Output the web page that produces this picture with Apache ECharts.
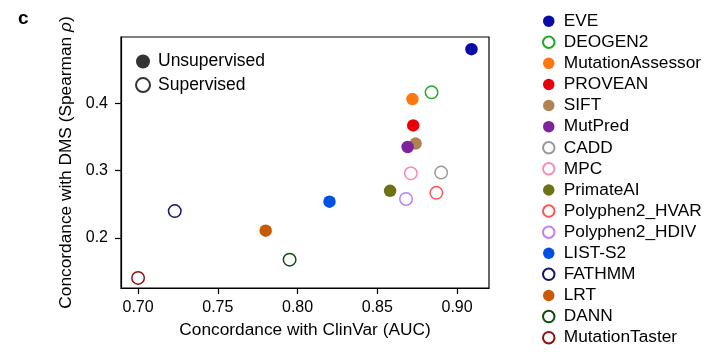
<!DOCTYPE html>
<html><head><meta charset="utf-8">
<script src="https://cdn.jsdelivr.net/npm/echarts@6/dist/echarts.min.js"></script>
<style>html,body{margin:0;padding:0;background:#fff}#c{width:716px;height:360px}</style>
</head><body><div id="c"></div>
<script>
const methods = ['EVE','DEOGEN2','MutationAssessor','PROVEAN','SIFT','MutPred','CADD','MPC','PrimateAI','Polyphen2_HVAR','Polyphen2_HDIV','LIST-S2','FATHMM','LRT','DANN','MutationTaster'];
const aucValues = [0.909,0.884,0.872,0.8725,0.874,0.869,0.890,0.871,0.858,0.887,0.868,0.820,0.723,0.780,0.795,0.700];
const spearmanValues = [0.480,0.416,0.406,0.367,0.340,0.335,0.297,0.296,0.270,0.267,0.258,0.254,0.240,0.211,0.168,0.141];
const supervised = [false,true,false,false,false,false,true,true,false,true,true,false,true,false,true,true];
const xTicks = [0.70,0.75,0.80,0.85,0.90];
const yTicks = [0.2,0.3,0.4];
const colors = ['#0a0aa6','#22aa22','#ff7711','#e8000a','#b08452','#7e22a0','#999999','#ff88bb','#6e7214','#ff5555','#c080f0','#0050e6','#14146e','#c85a0a','#0f4a0f','#8b1010'];

const FONT = '"Liberation Sans", Arial, Helvetica, sans-serif';
const chart = echarts.init(document.getElementById('c'), null, {renderer:'canvas'});

const series = methods.map((m,i) => ({
  name: m, type: 'scatter', symbol: 'circle', symbolSize: 12.5,
  data: [[aucValues[i], spearmanValues[i]]],
  itemStyle: supervised[i]
    ? {color: '#ffffff', borderColor: colors[i], borderWidth: 1.5, opacity: 1}
    : {color: colors[i], borderWidth: 0, opacity: 1},
  emphasis: {disabled: true}
}));
series.push({name:'Unsupervised', type:'scatter', data:[], itemStyle:{color:'#000', borderWidth:0}});
series.push({name:'Supervised', type:'scatter', data:[], itemStyle:{color:'#fff', borderColor:'#000', borderWidth:1.5}});

chart.setOption({
  animation: false,
  title: {text: 'c', left: 13, top: 4, textStyle: {fontFamily: FONT, fontWeight: 'bold', fontSize: 19, color: '#000'}},
  grid: {left: 121, right: 227, top: 37, bottom: 72, show: true, borderColor: '#000', borderWidth: 1.2, backgroundColor: 'transparent'},
  legend: [{
    data: methods, orient: 'vertical', left: 537, top: 7.5, icon: 'circle',
    itemWidth: 20, itemHeight: 11.5, itemGap: 3.8,
    textStyle: {fontFamily: FONT, fontSize: 17.3, color: '#000', lineHeight: 17.3},
    selectedMode: false
  },{
    data: ['Unsupervised','Supervised'], orient: 'vertical', left: 130, top: 47.5, icon: 'circle',
    itemWidth: 20, itemHeight: 14, itemGap: 5.6,
    textStyle: {fontFamily: FONT, fontSize: 17.5, color: '#000', lineHeight: 17.5},
    selectedMode: false
  }],
  xAxis: {
    type: 'value', min: 0.6893, max: 0.920,
    name: 'Concordance with ClinVar (AUC)', nameLocation: 'middle', nameGap: 34,
    nameTextStyle: {fontFamily: FONT, fontSize: 17.3, color: '#000'},
    axisLine: {show: true, lineStyle: {color: '#000', width: 1.2}},
    axisTick: {show: true, length: 6, customValues: xTicks, lineStyle: {color: '#000', width: 1.2}},
    axisLabel: {customValues: xTicks, margin: 12, fontFamily: FONT, fontSize: 16, color: '#000', formatter: v => v.toFixed(2)},
    splitLine: {show: false}
  },
  yAxis: {
    type: 'value', min: 0.126, max: 0.498,
    name: '{a|Concordance with DMS (Spearman }{b|ρ}{a|)}', nameLocation: 'middle', nameGap: 43,
    nameTextStyle: {rich: {a: {fontFamily: FONT, fontSize: 17.3, color: '#000'}, b: {fontFamily: FONT, fontSize: 17.3, color: '#000', fontStyle: 'italic'}}},
    axisLine: {show: true, lineStyle: {color: '#000', width: 1.2}},
    axisTick: {show: true, length: 6, customValues: yTicks, lineStyle: {color: '#000', width: 1.2}},
    axisLabel: {customValues: yTicks, margin: 13, fontFamily: FONT, fontSize: 16, color: '#000', formatter: v => v.toFixed(1)},
    splitLine: {show: false}
  },
  series: series
});
</script></body></html>
